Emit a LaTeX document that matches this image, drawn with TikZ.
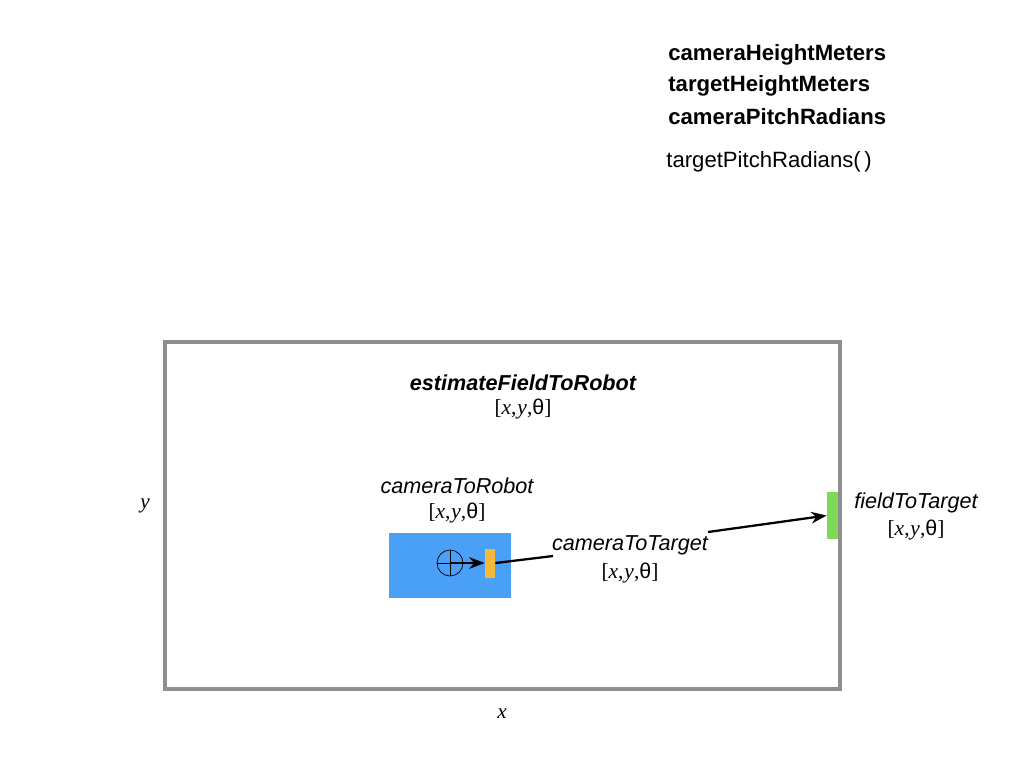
\documentclass[tikz,border=0pt]{standalone}
\usepackage{fontspec}
\setmainfont{Liberation Sans}
\newfontfamily\pose{Liberation Serif}
\usetikzlibrary{arrows.meta, positioning}
\definecolor{framegray}{HTML}{8E8E8E}
\definecolor{robotblue}{HTML}{4A9FF7}
\definecolor{camyellow}{HTML}{F2B93B}
\definecolor{targetgreen}{HTML}{7ED957}
\newcommand{\posevec}{{\pose[\textit{x},\kern0.5pt\textit{y},}{\rmfamily θ}{\pose]}}
\tikzset{
    fielddiagram/.style={>=Stealth, x=0.02cm, y=-0.02cm, font=\fontsize{12.3}{15}\selectfont},
    title/.style={font=\fontsize{12.3}{15}\selectfont\itshape},
    boldtitle/.style={font=\fontsize{12.3}{15}\selectfont\bfseries\itshape},
    posetext/.style={font=\fontsize{12.2}{14}\selectfont},
    param/.style={anchor=west, inner sep=0pt, font=\fontsize{12.6}{15}\selectfont\bfseries},
    axislabel/.style={font=\fontsize{12}{14}\selectfont\pose\itshape},
    connector/.style={line width=1.3pt},
}

\begin{document}
\begin{tikzpicture}[fielddiagram]
    \useasboundingbox (0,0) rectangle (1024,768);

    % parameters
    \node[param] (camh)  at (668,55)  {cameraHeightMeters};
    \node[param] (targh) at (668,86)  {targetHeightMeters};
    \node[param] (pitch) at (668,117) {cameraPitchRadians};
    \node[param, font=\fontsize{12.6}{15}\selectfont] (tpitch) at (666,162) {targetPitchRadians(\,)};

    % field
    \draw[framegray, line width=2.2pt] (165,342) rectangle (840,689);
    \node[boldtitle] (field)     at (523,383) {estimateFieldToRobot};
    \node[posetext]  (fieldpose) at (523,409) {\posevec};
    \node[axislabel] (yaxis) at (145,506) {y};
    \node[axislabel] (xaxis) at (502,714) {x};

    % robot and camera
    \node[title]    (robotlabel) at (457,486) {cameraToRobot};
    \node[posetext] (robotpose)  at (457,513) {\posevec};
    \fill[robotblue] (389,533) rectangle (511,598);
    \node[draw, circle, minimum size=26*0.02cm, inner sep=0pt, thin] (robot) at (450,563) {};
    \draw[thin] (robot.north) -- (robot.south) (robot.west) -- (robot.east);
    \node[fill=camyellow, minimum width=10*0.02cm, minimum height=29*0.02cm, inner sep=0pt] (camera) at (490,563) {};

    % camera to target
    \node[title]    (camlabel) at (630,545) {cameraToTarget};
    \node[posetext] (campose)  at (630,573) {\posevec};
    \coordinate (camin)  at (553,556);
    \coordinate (camout) at (708,532);

    % target
    \node[fill=targetgreen, minimum width=11*0.02cm, minimum height=47*0.02cm, inner sep=0pt] (target) at (832.5,515.5) {};
    \node[title]    (targetlabel) at (916,503) {fieldToTarget};
    \node[posetext] (targetpose)  at (916,530) {\posevec};

    \draw[->, connector] (robot.center) -- (camera.west);
    \draw[connector] (camera.east) -- (camin);
    \draw[->, connector] (camout) -- (target.west);
\end{tikzpicture}
\end{document}
